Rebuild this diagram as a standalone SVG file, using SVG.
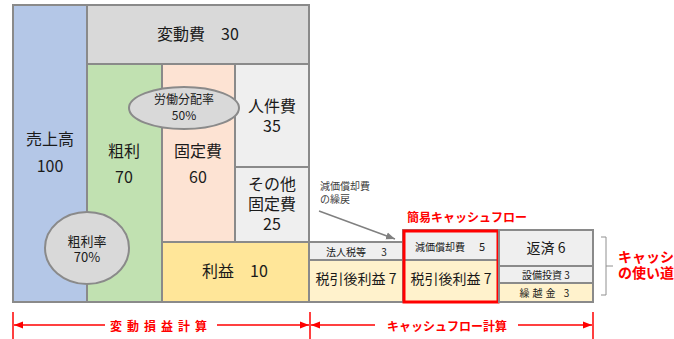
<svg xmlns="http://www.w3.org/2000/svg" width="674" height="339" viewBox="0 0 674 339">
<style>
text{font-family:"Noto Sans CJK JP","Noto Sans",sans-serif;fill:#1a1a1a;text-anchor:middle;dominant-baseline:central}
.b{stroke:#8a8a8a;stroke-width:2}
.red{fill:#ff0000;font-weight:bold}
.s10{font-size:10px}.s11{font-size:11px}.s12{font-size:12px}.s13{font-size:13px}.s14{font-size:14px}.s16{font-size:16px}
</style>
<defs>
<marker id="ra" viewBox="0 0 10 10" refX="10" refY="5" markerWidth="6" markerHeight="6" orient="auto-start-reverse"><path d="M0,1 L10,5 L0,9 z" fill="#ff0000"/></marker>
<marker id="ga" viewBox="0 0 10 10" refX="10" refY="5" markerWidth="6" markerHeight="6" orient="auto"><path d="M0,1 L10,5 L0,9 z" fill="#808080"/></marker>
</defs>
<rect width="674" height="339" fill="#ffffff"/>
<g id="sales"><rect class="b" x="13" y="5" width="74" height="297" fill="#b4c7e7"/><text class="s16" x="50" y="138">売上高</text><text class="s16" x="50" y="165">100</text></g>
<g id="variable"><rect class="b" x="87" y="5" width="222" height="59" fill="#d9d9d9"/><text class="s16" x="198" y="33">変動費　30</text></g>
<g id="gross"><rect class="b" x="87" y="64" width="75" height="238" fill="#c1e1b1"/><text class="s16" x="124" y="150">粗利</text><text class="s16" x="124" y="176">70</text></g>
<g id="fixed"><rect class="b" x="162" y="64" width="73" height="178" fill="#fde3d3"/><text class="s16" x="198" y="150">固定費</text><text class="s16" x="198" y="176">60</text></g>
<g id="personnel"><rect class="b" x="235" y="64" width="74" height="103" fill="#efefef"/><text class="s16" x="272" y="105">人件費</text><text class="s16" x="272" y="125">35</text></g>
<g id="otherfixed"><rect class="b" x="235" y="167" width="74" height="75" fill="#efefef"/><text class="s16" x="272" y="183">その他</text><text class="s16" x="272" y="203">固定費</text><text class="s16" x="272" y="223">25</text></g>
<g id="profit"><rect class="b" x="162" y="242" width="147" height="60" fill="#ffe699"/><text class="s16" x="235" y="270">利益　10</text></g>
<g id="grossratio"><ellipse class="b" cx="87" cy="248" rx="42" ry="36" fill="#d9d9d9"/><text class="s13" x="87" y="240">粗利率</text><text class="s13" x="87" y="256">70%</text></g>
<g id="laborratio"><ellipse class="b" cx="184" cy="108" rx="55" ry="21" fill="#d9d9d9"/><text class="s12" x="184" y="98">労働分配率</text><text class="s12" x="184" y="114">50%</text></g>
<g id="tax"><rect class="b" x="309" y="242" width="94" height="18" fill="#efefef"/><text class="s10" x="346" y="251">法人税等</text><text class="s10" x="384" y="251">3</text></g>
<g id="aftertax1"><rect class="b" x="309" y="260" width="94" height="42" fill="#fff2cc"/><text class="s14" x="356" y="278">税引後利益 7</text></g>
<g id="depr"><rect class="b" x="403" y="230" width="96" height="30" fill="#efefef"/><text class="s10" x="440" y="246">減価償却費</text><text class="s11" x="482" y="246">5</text></g>
<g id="aftertax2"><rect class="b" x="403" y="260" width="96" height="42" fill="#fff2cc"/><text class="s14" x="451" y="278">税引後利益 7</text></g>
<g id="simplecf"><rect x="404" y="231" width="94" height="71" fill="none" stroke="#ff0000" stroke-width="3"/><text class="red s12" x="467" y="216">簡易キャッシュフロー</text></g>
<g id="repay"><rect class="b" x="499" y="230" width="94" height="36" fill="#efefef"/><text class="s14" x="546" y="247">返済 6</text></g>
<g id="capex"><rect class="b" x="499" y="266" width="94" height="17" fill="#efefef"/><text class="s10" x="546" y="274">設備投資 3</text></g>
<g id="carry"><rect class="b" x="499" y="283" width="94" height="19" fill="#fff2cc"/><text class="s10" x="546" y="292" letter-spacing="3">繰越金 3</text></g>
<g id="note"><text class="s10" x="320" y="185" style="text-anchor:start;fill:#404040">減価償却費</text><text class="s10" x="320" y="198" style="text-anchor:start;fill:#404040">の繰戻</text></g>
<g id="uses"><text class="red s14" x="618" y="256" style="text-anchor:start">キャッシュ</text><text class="red s14" x="618" y="272" style="text-anchor:start">の使い道</text></g>
<g id="connectors">
<line x1="319" y1="211" x2="395" y2="239" stroke="#808080" stroke-width="1.5" marker-end="url(#ga)"/>
<polyline points="601,237 606,237 606,295 601,295" fill="none" stroke="#909090" stroke-width="1"/>
<line x1="606" y1="266" x2="613" y2="266" stroke="#909090" stroke-width="1"/>
<g stroke="#ff0000" stroke-width="1.5" fill="none">
<line x1="13" y1="312" x2="13" y2="339"/><line x1="310" y1="312" x2="310" y2="339"/><line x1="593" y1="312" x2="593" y2="339"/>
<line x1="105" y1="325" x2="14" y2="325" marker-end="url(#ra)"/>
<line x1="217" y1="325" x2="309" y2="325" marker-end="url(#ra)"/>
<line x1="375" y1="325" x2="311" y2="325" marker-end="url(#ra)"/>
<line x1="518" y1="325" x2="592" y2="325" marker-end="url(#ra)"/>
</g>
<text class="red s12" x="161" y="325" letter-spacing="5">変動損益計算</text>
<text class="red s12" x="447" y="325">キャッシュフロー計算</text>
</g>
</svg>
